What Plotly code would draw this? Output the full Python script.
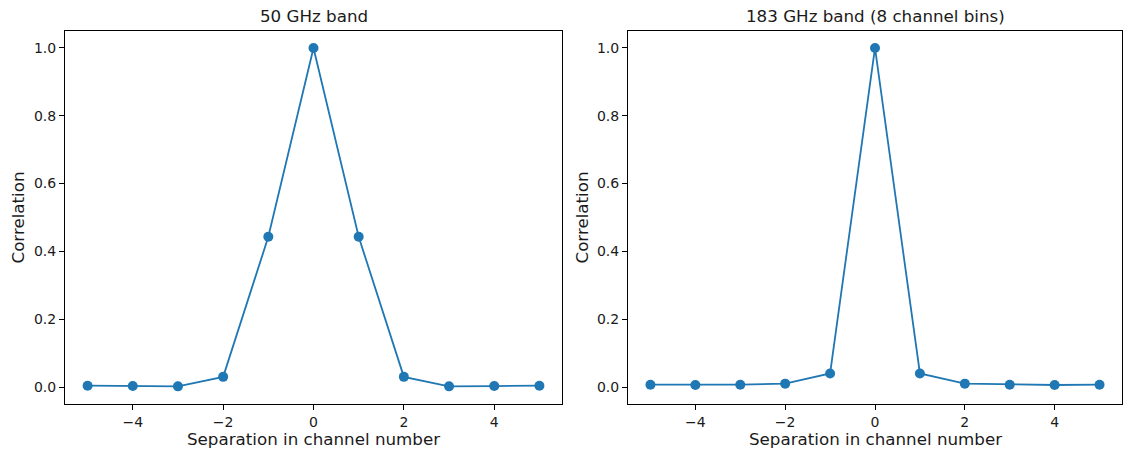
import plotly.graph_objects as go
from plotly.subplots import make_subplots

separation = [-5, -4, -3, -2, -1, 0, 1, 2, 3, 4, 5]
corr_50 = [0.004, 0.003, 0.002, 0.030, 0.443, 1.0, 0.443, 0.030, 0.002, 0.003, 0.004]
corr_183 = [0.007, 0.006, 0.007, 0.010, 0.040, 1.0, 0.040, 0.010, 0.007, 0.006, 0.007]
titles = ["50 GHz band", "183 GHz band (8 channel bins)"]
xlabel = "Separation in channel number"
ylabel = "Correlation"
xticks = [-4, -2, 0, 2, 4]
xtick_text = ["\u22124", "\u22122", "0", "2", "4"]
yticks = [0.0, 0.2, 0.4, 0.6, 0.8, 1.0]

W, H = 1123, 450
color = "#1f77b4"
FONT = "DejaVu Sans"
TXT = "#1a1a1a"

fig = make_subplots(rows=1, cols=2)
for i, ys in enumerate([corr_50, corr_183], start=1):
    fig.add_trace(go.Scatter(x=separation, y=ys, mode="lines+markers",
                             line=dict(color=color, width=1.8),
                             marker=dict(color=color, size=10),
                             showlegend=False), row=1, col=i)

doms = [(65 / W, 562 / W), (628 / W, 1122 / W)]
top, bottom = 31, 404
ydom = [1 - bottom / H, 1 - top / H]
axis_common = dict(showline=True, linecolor="black", linewidth=1, mirror=True,
                   ticks="outside", ticklen=5, tickcolor="black", showgrid=False,
                   zeroline=False, automargin=False,
                   tickfont=dict(family=FONT, size=14, color=TXT))
for i in (1, 2):
    fig.update_xaxes(domain=list(doms[i - 1]), range=[-5.5, 5.5], tickvals=xticks,
                     ticktext=xtick_text, row=1, col=i, **axis_common)
    fig.update_yaxes(domain=ydom, range=[-0.05, 1.05], tickvals=yticks,
                     tickformat=".1f", row=1, col=i, **axis_common)

annotations = []
ylab_x = [17, 581]
for i, t in enumerate(titles):
    cx = (doms[i][0] + doms[i][1]) / 2
    annotations.append(dict(text=t, x=cx, y=1 - 16 / H, xref="paper", yref="paper",
                            showarrow=False, xanchor="center", yanchor="middle",
                            font=dict(family=FONT, size=16.7, color=TXT)))
    annotations.append(dict(text=xlabel, x=cx, y=1 - 439 / H, xref="paper", yref="paper",
                            showarrow=False, xanchor="center", yanchor="middle",
                            font=dict(family=FONT, size=16.7, color=TXT)))
    annotations.append(dict(text=ylabel, x=ylab_x[i] / W, y=1 - ((top + bottom) / 2) / H,
                            xref="paper", yref="paper", textangle=-90,
                            showarrow=False, xanchor="center", yanchor="middle",
                            font=dict(family=FONT, size=16.7, color=TXT)))
fig.update_layout(width=W, height=H, margin=dict(l=0, r=0, t=0, b=0),
                  plot_bgcolor="white", paper_bgcolor="white",
                  annotations=annotations, hovermode=False)
fig.write_html("out.html", config={"displayModeBar": False},
               post_script="document.body.style.margin='0';document.body.style.padding='0';document.body.style.overflow='hidden';")
